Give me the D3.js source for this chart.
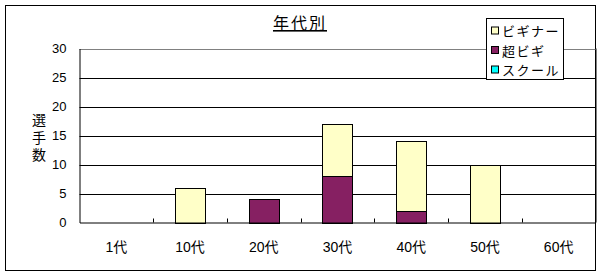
<!DOCTYPE html>
<html>
<head>
<meta charset="utf-8">
<script src="https://cdn.jsdelivr.net/npm/d3@7"></script>
<style>
  body { margin: 0; background: #fff; }
  text { font-family: "Liberation Sans", "Noto Sans CJK JP", sans-serif; fill: #000; }
</style>
</head>
<body>
<svg id="chart"></svg>
<script>
const width = 602, height = 276;

// data
const categories = ["1代", "10代", "20代", "30代", "40代", "50代", "60代"];
const seriesNames = ["ビギナー", "超ビギ", "スクール"];
const beginner = [0, 6, 0, 9, 12, 10, 0];
const superBeginner = [0, 0, 4, 8, 2, 0, 0];
const school = [0, 0, 0, 0, 0, 0, 0];
const yTicks = [0, 5, 10, 15, 20, 25, 30];
const colors = ["#ffffc8", "#862062", "#00ffff"];

// stacked order: 超ビギ at bottom, then ビギナー, スクール on top
const table = categories.map((c, i) => ({
  cat: c,
  "超ビギ": superBeginner[i],
  "ビギナー": beginner[i],
  "スクール": school[i]
}));
const stack = d3.stack().keys(["超ビギ", "ビギナー", "スクール"]);
const layers = stack(table);

const svg = d3.select("#chart").attr("width", width).attr("height", height);

// outer frame
svg.append("rect")
  .attr("x", 5.5).attr("y", 5.5)
  .attr("width", 590).attr("height", 265)
  .attr("fill", "#fff").attr("stroke", "#000");

const plot = { left: 79.5, right: 595.5, top: 48.5, bottom: 222.5 };

const x = d3.scaleBand().domain(categories).range([plot.left, plot.right]).padding(0);
const y = d3.scaleLinear().domain([0, 30]).range([plot.bottom, plot.top]);

// grid lines
svg.append("g")
  .selectAll("line")
  .data(yTicks.filter(t => t > 0))
  .join("line")
  .attr("x1", plot.left).attr("x2", plot.right)
  .attr("y1", d => Math.round(y(d)) + 0.5).attr("y2", d => Math.round(y(d)) + 0.5)
  .attr("stroke", d => d === 30 ? "#808080" : "#000");

// right edge of plot area (gray)
svg.append("line")
  .attr("x1", plot.right + 1).attr("x2", plot.right + 1)
  .attr("y1", plot.top).attr("y2", plot.bottom)
  .attr("stroke", "#808080");

// bars
const barW = x.step() * 0.41;
const colorOf = { "ビギナー": colors[0], "超ビギ": colors[1], "スクール": colors[2] };
layers.forEach(layer => {
  svg.append("g")
    .selectAll("rect")
    .data(layer.filter(d => d[1] - d[0] > 0))
    .join("rect")
    .attr("x", d => Math.round(x(d.data.cat) + (x.step() - barW) / 2) + 0.5)
    .attr("width", Math.round(barW))
    .attr("y", d => Math.round(y(d[1])) + 0.5)
    .attr("height", d => Math.round(y(d[0])) - Math.round(y(d[1])))
    .attr("fill", colorOf[layer.key])
    .attr("stroke", "#000");
});

// y axis
const yAxis = svg.append("g")
  .attr("transform", `translate(${plot.left},0)`)
  .call(d3.axisLeft(y).tickValues(yTicks).tickSize(0).tickPadding(13));
yAxis.select(".domain").attr("stroke", "#000");
yAxis.selectAll("text").style("font-size", "13px")
  .attr("font-family", null);

// x axis
const xAxis = svg.append("g")
  .attr("transform", `translate(0,${plot.bottom})`)
  .call(d3.axisBottom(x).tickSize(0).tickPadding(20));
xAxis.select(".domain").attr("stroke", "#000");
xAxis.selectAll("text").style("font-size", "14px");

// small tick marks between categories, pointing into the plot
svg.append("g")
  .selectAll("line")
  .data(categories.slice(1))
  .join("line")
  .attr("x1", d => Math.round(x(d)) + 0.5).attr("x2", d => Math.round(x(d)) + 0.5)
  .attr("y1", plot.bottom).attr("y2", plot.bottom - 4)
  .attr("stroke", "#000");

// title
svg.append("text")
  .attr("x", 300).attr("y", 29)
  .attr("text-anchor", "middle")
  .style("font-size", "16px")
  .style("letter-spacing", "2px")
  .style("text-decoration", "underline")
  .text("年代別");

// vertical y label
const yLabel = ["選", "手", "数"];
svg.append("g")
  .selectAll("text")
  .data(yLabel)
  .join("text")
  .attr("x", 39)
  .attr("y", (d, i) => 125 + i * 17.5)
  .attr("text-anchor", "middle")
  .style("font-size", "14px")
  .text(d => d);

// legend
const legend = svg.append("g");
legend.append("rect")
  .attr("x", 486.5).attr("y", 18.5)
  .attr("width", 77).attr("height", 61)
  .attr("fill", "#fff").attr("stroke", "#000");
const rows = legend.selectAll("g")
  .data(seriesNames)
  .join("g")
  .attr("transform", (d, i) => `translate(0,${31 + i * 19.5})`);
rows.append("rect")
  .attr("x", 491.5).attr("y", -4)
  .attr("width", 7).attr("height", 7)
  .attr("fill", (d, i) => colors[i]).attr("stroke", "#000");
rows.append("text")
  .attr("x", 502).attr("y", 5)
  .style("font-size", "13px")
  .style("letter-spacing", "1.5px")
  .text(d => d);
</script>
</body>
</html>
